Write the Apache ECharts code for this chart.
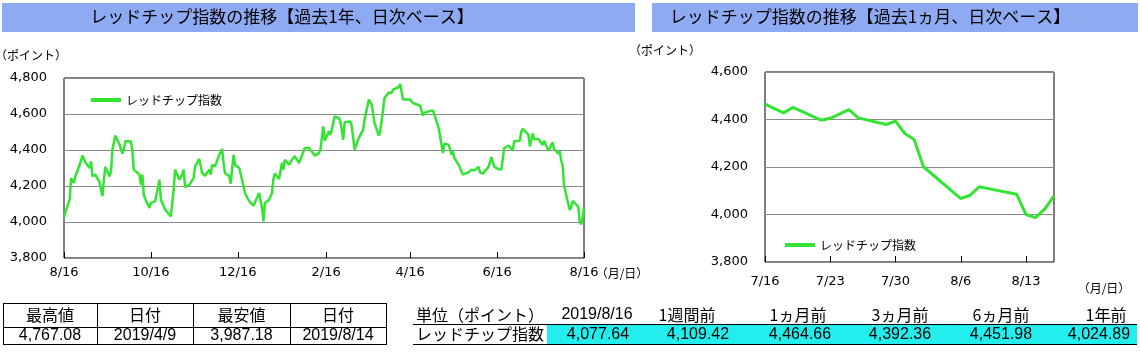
<!DOCTYPE html>
<html><head><meta charset="utf-8">
<script src="https://cdn.jsdelivr.net/npm/echarts@6/dist/echarts.min.js"></script>
<style>html,body{margin:0;padding:0;background:#fff}#c{width:1140px;height:353px}</style>
</head><body><div id="c"></div>
<script>
// ---- data ----
const yearDates = ['2018-08-16','2018-08-17','2018-08-20','2018-08-21','2018-08-23','2018-08-24','2018-08-27','2018-08-29','2018-08-31','2018-09-03','2018-09-04','2018-09-05','2018-09-07','2018-09-10','2018-09-12','2018-09-13','2018-09-14','2018-09-17','2018-09-18','2018-09-19','2018-09-21','2018-09-24','2018-09-26','2018-09-27','2018-09-28','2018-10-02','2018-10-03','2018-10-04','2018-10-08','2018-10-09','2018-10-10','2018-10-11','2018-10-12','2018-10-15','2018-10-16','2018-10-19','2018-10-22','2018-10-23','2018-10-26','2018-10-30','2018-11-01','2018-11-02','2018-11-05','2018-11-07','2018-11-08','2018-11-09','2018-11-12','2018-11-15','2018-11-16','2018-11-19','2018-11-21','2018-11-23','2018-11-26','2018-11-27','2018-11-28','2018-11-30','2018-12-03','2018-12-05','2018-12-06','2018-12-07','2018-12-10','2018-12-11','2018-12-13','2018-12-14','2018-12-17','2018-12-19','2018-12-21','2018-12-24','2018-12-27','2018-12-28','2018-12-31','2019-01-02','2019-01-03','2019-01-04','2019-01-07','2019-01-09','2019-01-10','2019-01-11','2019-01-14','2019-01-16','2019-01-17','2019-01-18','2019-01-21','2019-01-23','2019-01-25','2019-01-28','2019-01-30','2019-02-01','2019-02-04','2019-02-08','2019-02-11','2019-02-12','2019-02-14','2019-02-15','2019-02-18','2019-02-19','2019-02-20','2019-02-22','2019-02-25','2019-02-26','2019-02-28','2019-03-01','2019-03-05','2019-03-06','2019-03-08','2019-03-11','2019-03-14','2019-03-15','2019-03-18','2019-03-20','2019-03-22','2019-03-25','2019-03-26','2019-03-28','2019-03-29','2019-04-01','2019-04-03','2019-04-04','2019-04-08','2019-04-09','2019-04-11','2019-04-12','2019-04-16','2019-04-18','2019-04-23','2019-04-25','2019-04-26','2019-04-29','2019-04-30','2019-05-02','2019-05-03','2019-05-06','2019-05-07','2019-05-09','2019-05-10','2019-05-13','2019-05-14','2019-05-15','2019-05-16','2019-05-17','2019-05-20','2019-05-23','2019-05-24','2019-05-27','2019-05-29','2019-05-31','2019-06-03','2019-06-04','2019-06-06','2019-06-10','2019-06-12','2019-06-14','2019-06-17','2019-06-19','2019-06-21','2019-06-24','2019-06-25','2019-06-27','2019-06-28','2019-07-02','2019-07-03','2019-07-04','2019-07-08','2019-07-09','2019-07-11','2019-07-12','2019-07-15'];
const yearValues = [4025,4055,4124,4244,4217,4254,4318,4369,4331,4300,4337,4254,4263,4220,4143,4235,4306,4254,4281,4402,4480,4430,4380,4402,4448,4448,4393,4291,4263,4207,4263,4152,4128,4078,4106,4115,4235,4124,4069,4031,4180,4291,4235,4263,4291,4194,4207,4244,4309,4350,4272,4257,4291,4263,4318,4309,4374,4406,4328,4272,4254,4213,4374,4318,4300,4235,4161,4115,4091,4091,4161,4078,4004,4106,4124,4161,4239,4269,4239,4328,4291,4346,4318,4346,4365,4328,4369,4411,4411,4369,4383,4402,4531,4452,4504,4485,4513,4587,4578,4559,4457,4554,4559,4531,4402,4467,4513,4569,4680,4652,4550,4480,4504,4624,4689,4720,4717,4735,4750,4767,4680,4683,4680,4661,4646,4591,4606,4615,4606,4620,4615,4522,4513,4383,4435,4430,4402,4374,4392,4356,4318,4263,4269,4276,4291,4287,4306,4276,4269,4306,4361,4306,4294,4291,4411,4424,4430,4398,4448,4452,4504,4517,4485,4420,4491,4461,4461];
const monthDates = ['2019-07-16','2019-07-18','2019-07-19','2019-07-22','2019-07-23','2019-07-25','2019-07-26','2019-07-29','2019-07-30','2019-07-31','2019-08-01','2019-08-02','2019-08-06','2019-08-07','2019-08-08','2019-08-09','2019-08-12','2019-08-13','2019-08-14','2019-08-15','2019-08-16'];
const monthValues = [4465,4428,4451,4397,4405,4442,4407,4379,4393,4341,4316,4201,4067,4081,4117,4109,4085,4000,3987,4023,4078];
const yearTicks = ['2018-08-16','2018-10-16','2018-12-16','2019-02-16','2019-04-16','2019-06-16','2019-08-16'];
const monthTicks = ['2019-07-16','2019-07-23','2019-07-30','2019-08-06','2019-08-13'];
const monthEnd = '2019-08-16';
const seriesName = 'レッドチップ指数';
const titleYear = 'レッドチップ指数の推移【過去1年、日次ベース】';
const titleMonth = 'レッドチップ指数の推移【過去1ヵ月、日次ベース】';
const statHeaders = ['最高値','日付','最安値','日付'];
const statValues = ['4,767.08','2019/4/9','3,987.18','2019/8/14'];
const cmpHeaders = ['単位（ポイント）','2019/8/16','1週間前','1ヵ月前','3ヵ月前','6ヵ月前','1年前'];
const cmpValues = ['4,077.64','4,109.42','4,464.66','4,392.36','4,451.98','4,024.89'];

// ---- helpers ----
function ts(s){const p=s.split('-').map(Number);return new Date(p[0],p[1]-1,p[2]).getTime();}
function md(v){const d=new Date(v);return (d.getMonth()+1)+'/'+d.getDate();}
function comma(v){return String(v).replace(/\B(?=(\d{3})+(?!\d))/g,',');}
const JP='"Noto Sans CJK JP", sans-serif';
const NUM='"Liberation Sans", Arial, sans-serif';
const AX='"DejaVu Sans", sans-serif';
const GREEN='#33e433';

const yearData = yearDates.map((d,i)=>[ts(d),yearValues[i]]).concat(monthDates.map((d,i)=>[ts(d),monthValues[i]]));
const monthData = monthDates.map((d,i)=>[ts(d),monthValues[i]]);

function txt(text,x,y,size,font,align){
  return {type:'text',silent:true,style:{text:text,x:x,y:y,font:size+'px '+font,fill:'#000',
    align:align||'center',textAlign:align||'center',verticalAlign:'middle',textVerticalAlign:'middle'}};
}
function hline(x1,x2,y){return {type:'line',silent:true,shape:{x1:x1,y1:y+0.5,x2:x2,y2:y+0.5},style:{stroke:'#000',lineWidth:1}};}
function vline(x,y1,y2){return {type:'line',silent:true,shape:{x1:x+0.5,y1:y1,x2:x+0.5,y2:y2},style:{stroke:'#000',lineWidth:1}};}

const g=[];
g.push({type:'rect',silent:true,shape:{x:2,y:3,width:633,height:29},style:{fill:'#8eaaf2'}});
g.push({type:'rect',silent:true,shape:{x:652,y:3,width:486,height:29},style:{fill:'#8eaaf2'}});
g.push(txt(titleYear,282,17,17,JP));
g.push(txt(titleMonth,870,17,17,JP));
g.push(txt('（ポイント）',31,55,12,JP));
g.push(txt('（ポイント）',665,50,12,JP));
g.push(txt('（月/日）',622,273,12,JP));
g.push(txt('（月/日）',1104,288,12,JP));
const t1x=[3,97,193,290,386];
[303,327,344].forEach(y=>g.push(hline(t1x[0],t1x[4]+1,y)));
t1x.forEach(x=>g.push(vline(x,303,345)));
statHeaders.forEach((h,i)=>g.push(txt(h,(t1x[i]+t1x[i+1])/2,315,16,JP)));
statValues.forEach((v,i)=>g.push(txt(v,(t1x[i]+t1x[i+1])/2,336,16,NUM)));
g.push({type:'rect',silent:true,shape:{x:547,y:325,width:590,height:19},style:{fill:'#22eeee'}});
g.push(hline(413,1137,324));
g.push(hline(413,1137,344));
const hx=[480,597,687,798,900,1001,1106];
const vx=[598,698,800,900,1001,1099];
cmpHeaders.forEach((h,i)=>g.push(txt(h,hx[i],315,16,i===1?NUM:JP)));
g.push(txt(seriesName,480,334,16,JP));
cmpValues.forEach((v,i)=>g.push(txt(v,vx[i],335,16,NUM)));

const chart=echarts.init(document.getElementById('c'),null,{renderer:'canvas'});
const axisLbl={color:'#000',fontSize:13,fontFamily:AX};
chart.setOption({
  animation:false,
  backgroundColor:'#fff',
  grid:[
    {left:64,top:78,width:520,height:180,show:true,borderColor:'#000',borderWidth:1,backgroundColor:'transparent'},
    {left:765,top:72,width:289,height:190,show:true,borderColor:'#000',borderWidth:1,backgroundColor:'transparent'}
  ],
  legend:[
    {left:86,top:89,icon:'rect',itemWidth:30,itemHeight:4,itemGap:4,data:[seriesName],selectedMode:false,
     textStyle:{fontSize:12,fontFamily:JP,color:'#000'}},
    {left:780,top:234,icon:'rect',itemWidth:30,itemHeight:4,itemGap:4,data:[seriesName],selectedMode:false,
     textStyle:{fontSize:12,fontFamily:JP,color:'#000'}}
  ],
  xAxis:[
    {type:'value',gridIndex:0,min:ts(yearTicks[0]),max:ts(yearTicks[yearTicks.length-1]),
     axisLine:{show:false},splitLine:{show:false},
     axisTick:{show:true,inside:true,length:6,lineStyle:{color:'#000'},customValues:yearTicks.map(ts)},
     axisLabel:{...axisLbl,margin:8,customValues:yearTicks.map(ts),formatter:v=>md(v),hideOverlap:false}},
    {type:'value',gridIndex:1,min:ts(monthTicks[0]),max:ts(monthEnd),
     axisLine:{show:false},splitLine:{show:false},
     axisTick:{show:true,inside:true,length:6,lineStyle:{color:'#000'},customValues:monthTicks.map(ts)},
     axisLabel:{...axisLbl,margin:13,customValues:monthTicks.map(ts),formatter:v=>md(v),hideOverlap:false}}
  ],
  yAxis:[
    {type:'value',gridIndex:0,min:3800,max:4800,interval:200,axisLine:{show:false},axisTick:{show:false},
     splitLine:{show:true,lineStyle:{color:'#8a8a8a',width:1}},axisLabel:{...axisLbl,margin:17,formatter:v=>comma(v)}},
    {type:'value',gridIndex:1,min:3800,max:4600,interval:200,axisLine:{show:false},axisTick:{show:false},
     splitLine:{show:true,lineStyle:{color:'#8a8a8a',width:1}},axisLabel:{...axisLbl,margin:17,formatter:v=>comma(v)}}
  ],
  series:[
    {name:seriesName,type:'line',xAxisIndex:0,yAxisIndex:0,data:yearData,showSymbol:false,symbol:'none',
     lineStyle:{color:GREEN,width:2.5},itemStyle:{color:GREEN},z:3},
    {name:seriesName,type:'line',xAxisIndex:1,yAxisIndex:1,data:monthData,showSymbol:false,symbol:'none',
     lineStyle:{color:GREEN,width:3},itemStyle:{color:GREEN},z:3}
  ],
  graphic:{elements:g}
});
</script></body></html>
